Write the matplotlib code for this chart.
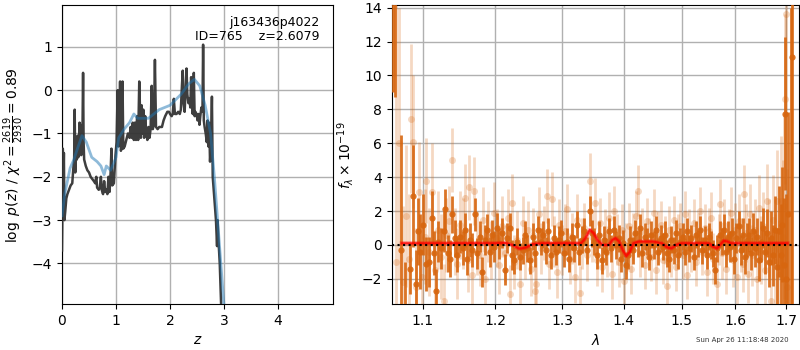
import matplotlib
matplotlib.use("Agg")
import matplotlib.pyplot as plt
import numpy as np
from matplotlib.ticker import FixedLocator, FixedFormatter, NullLocator

# ---------------- left panel: log p(z) ----------------
z_pz = [0.000, 0.010, 0.015, 0.025, 0.035, 0.045, 0.060, 0.080, 0.100, 0.130,
        0.160, 0.190, 0.210, 0.225, 0.235, 0.245, 0.260, 0.275, 0.290, 0.300,
        0.315, 0.325, 0.335, 0.345, 0.355, 0.375, 0.390, 0.400, 0.410, 0.440,
        0.470, 0.500, 0.530, 0.560, 0.590, 0.615, 0.635, 0.650, 0.680, 0.700,
        0.720, 0.735, 0.760, 0.780, 0.800, 0.820, 0.840, 0.860, 0.880, 0.900,
        0.915, 0.930, 0.960, 0.990, 1.010, 1.030, 1.045, 1.060, 1.075, 1.090,
        1.110, 1.120, 1.135, 1.160, 1.190, 1.220, 1.250, 1.270, 1.290, 1.310,
        1.330, 1.350, 1.370, 1.390, 1.410, 1.430, 1.445, 1.460, 1.475, 1.490,
        1.505, 1.520, 1.540, 1.560, 1.580, 1.600, 1.620, 1.640, 1.660, 1.680,
        1.700, 1.720, 1.740, 1.770, 1.800, 1.850, 1.880, 1.910, 1.950, 1.980,
        2.000, 2.030, 2.050, 2.070, 2.090, 2.120, 2.150, 2.180, 2.200, 2.220,
        2.235, 2.250, 2.270, 2.290, 2.305, 2.320, 2.340, 2.360, 2.375, 2.390,
        2.405, 2.420, 2.440, 2.455, 2.470, 2.490, 2.510, 2.530, 2.545, 2.560,
        2.580, 2.600, 2.612, 2.625, 2.640, 2.660, 2.680, 2.695, 2.710, 2.725,
        2.740, 2.760, 2.775, 2.790, 2.820, 2.850, 2.870, 2.880, 2.900, 2.920,
        2.960, 3.000]
logp = [-3.70, -2.50, -1.35, -2.20, -1.45, -3.00, -2.80, -2.50, -2.40, -2.30,
        -2.20, -2.15, -1.80, -1.60, -0.45, -1.90, -1.50, -1.60, -1.05, -1.55,
        -1.40, -0.75, -1.30, -0.80, -1.50, -1.45, 0.40, -1.20, -1.60, -1.75,
        -1.85, -1.90, -2.00, -2.05, -2.10, -2.15, -2.00, -2.25, -2.30, -2.25,
        -2.00, -2.30, -2.40, -2.10, -2.35, -2.30, -2.40, -2.00, -2.35, -1.90,
        -1.35, -2.20, -2.15, -1.50, -1.20, 0.00, -1.30, -1.05, 0.20, -1.40,
        -1.30, 0.20, -1.35, -1.30, -1.15, -1.00, -1.10, -0.85, -1.10, -0.75,
        -1.15, -0.75, -1.15, -0.60, -1.15, 0.20, -0.50, -1.10, -0.35, -1.00,
        -0.45, -1.10, -0.60, -1.00, -1.15, -0.85, -1.10, -0.90, 0.10, -0.90,
        -0.80, 0.70, -0.85, -0.90, -0.85, -0.85, -0.70, -0.60, -0.50, -0.50,
        -0.55, -0.60, -0.55, -0.20, -0.55, -0.55, -0.50, -0.55, -0.45, 0.10,
        0.45, -0.30, -0.50, 0.10, 0.50, -0.10, -0.30, -0.20, -0.40, 0.30,
        -0.25, -0.55, 0.40, -0.60, -0.50, -0.55, -0.70, -0.55, -0.80, -0.60,
        -0.40, -0.50, 1.05, -0.70, -0.85, -1.00, -1.20, -0.70, -1.30, -0.75,
        -1.65, -1.20, -0.15, -2.00, -2.50, -3.00, -3.60, -3.00, -3.55, -4.00,
        -5.50, -7.00]

z_prior = [0.00, 0.05, 0.15, 0.22, 0.30, 0.37, 0.45, 0.55, 0.65, 0.72,
           0.78, 0.82, 0.90, 1.00, 1.05, 1.15, 1.25, 1.33, 1.40, 1.60,
           1.80, 2.00, 2.20, 2.35, 2.45, 2.55, 2.65, 2.75, 2.82, 2.88,
           2.94, 3.00]
logp_smooth = [-2.90, -2.40, -1.80, -1.60, -1.30, -1.05, -1.20, -1.55, -1.65, -1.75,
               -1.95, -1.75, -1.85, -1.55, -1.10, -0.90, -0.75, -0.55, -0.65, -0.65,
               -0.45, -0.35, -0.10, 0.15, 0.25, 0.10, -0.35, -1.00, -2.00, -3.00,
               -4.00, -5.00]

z_ticks = [0, 1, 2, 3, 4]
pz_yticks = [-4, -3, -2, -1, 0, 1]

# ---------------- right panel: spectrum ----------------
wave_unbinned = [
    1.066, 1.070, 1.074, 1.078, 1.082, 1.085, 1.087, 1.091, 1.095, 1.099,
    1.103, 1.105, 1.109, 1.113, 1.117, 1.121, 1.125, 1.128, 1.132, 1.135,
    1.139, 1.143, 1.147, 1.151, 1.155, 1.158, 1.161, 1.163, 1.167, 1.170,
    1.174, 1.178, 1.182, 1.186, 1.190, 1.194, 1.198, 1.202, 1.206, 1.210,
    1.214, 1.218, 1.2215, 1.224, 1.228, 1.232, 1.236, 1.240, 1.244, 1.248,
    1.252, 1.256, 1.258, 1.260, 1.264, 1.268, 1.272, 1.2765, 1.280, 1.284,
    1.288, 1.292, 1.296, 1.300, 1.304, 1.308, 1.312, 1.316, 1.320, 1.3235,
    1.3275, 1.331, 1.335, 1.339, 1.3435, 1.347, 1.352, 1.356, 1.360, 1.364,
    1.368, 1.372, 1.376, 1.380, 1.384, 1.388, 1.392, 1.396, 1.400, 1.404,
    1.408, 1.412, 1.416, 1.420, 1.4235, 1.427, 1.431, 1.435, 1.439, 1.443,
    1.447, 1.451, 1.455, 1.459, 1.463, 1.467, 1.471, 1.474, 1.478, 1.482,
    1.486, 1.490, 1.494, 1.498, 1.502, 1.506, 1.510, 1.514, 1.518, 1.522,
    1.526, 1.530, 1.534, 1.538, 1.542, 1.546, 1.550, 1.554, 1.558, 1.565,
    1.568, 1.571, 1.575, 1.579, 1.583, 1.587, 1.591, 1.595, 1.599, 1.603,
    1.607, 1.611, 1.614, 1.617, 1.621, 1.625, 1.629, 1.633, 1.637, 1.641,
    1.645, 1.649, 1.653, 1.657, 1.661, 1.665, 1.670, 1.674, 1.678, 1.682,
    1.686, 1.690, 1.693, 1.696, 1.698, 1.700, 1.702]
flux_unbinned = [
    -1.0, 6.0, -2.2, 1.7, -0.8, 7.45, 6.1, -2.5, 3.1, -1.9,
    0.5, 3.8, -0.4, 3.1, -1.5, 0.9, -0.7, -3.3, 0.6, 1.4,
    5.0, 0.2, -1.1, 1.2, 0.7, 2.8, -0.9, 3.4, -1.8, 3.2,
    0.1, -0.6, 1.5, -2.0, 0.8, -0.3, 1.9, 0.4, -1.2, 1.1,
    -0.5, 1.6, -2.9, 2.5, -1.0, 0.3, -2.3, 1.3, -0.4, 0.9,
    -1.4, 0.6, -2.7, -2.3, 1.8, -0.2, 0.7, 2.9, -1.1, 2.7,
    0.2, -1.6, 1.2, -0.3, 0.8, 2.1, -0.8, 0.4, -1.9, 1.5,
    -2.86, 0.1, 1.0, -0.6, 3.8, 0.5, 2.45, -0.9, 1.3, -1.3,
    0.6, -0.4, 1.6, -1.7, 2.0, 0.3, -1.0, 0.9, -2.1, -0.2,
    1.1, -1.4, 0.5, 1.7, 3.2, -0.5, 0.8, -1.2, 1.4, 0.2,
    -0.7, 1.9, -1.5, 0.6, 1.2, -0.9, 0.3, -2.4, 0.9, -0.5,
    1.5, -1.3, 0.4, 1.1, -0.6, 1.8, -1.8, 0.7, -0.2, 1.3,
    -1.0, 0.5, 2.0, -0.4, 1.0, -1.6, 0.8, 1.6, -0.8, -2.3,
    0.3, 2.4, -0.5, 1.2, -1.4, 0.6, 1.9, -0.9, 0.9, -1.9,
    1.4, 0.0, -1.1, 3.0, 0.7, -1.7, 1.8, -0.6, 0.9, -2.0,
    2.2, -0.3, 1.1, -1.5, 2.6, 0.4, -3.3, 1.5, -1.0, 2.6,
    -1.8, 2.6, 0.5, 2.3, 8.6, 13.65, -2.5]
err_unbinned = [
    16.0, 8.0, 4.5, 4.2, 3.8, 4.4, 3.9, 3.5, 3.0, 3.1,
    2.8, 2.5, 2.6, 2.9, 2.4, 2.3, 2.5, 2.2, 2.2, 2.1,
    1.9, 2.0, 2.1, 2.0, 2.1, 2.0, 1.9, 1.9, 2.0, 2.0,
    1.9, 1.8, 1.9, 1.8, 1.8, 1.7, 1.8, 1.7, 1.7, 1.8,
    1.7, 1.7, 1.7, 1.7, 1.6, 1.7, 1.6, 1.6, 1.6, 1.7,
    1.6, 1.6, 1.6, 1.6, 1.6, 1.5, 1.6, 1.6, 1.5, 1.6,
    1.5, 1.5, 1.5, 1.5, 1.6, 1.5, 1.5, 1.5, 1.5, 1.5,
    1.6, 1.5, 1.5, 1.5, 1.6, 1.5, 1.5, 1.5, 1.5, 1.5,
    1.5, 1.5, 1.5, 1.5, 1.5, 1.5, 1.5, 1.5, 1.5, 1.5,
    1.4, 1.5, 1.4, 1.5, 1.5, 1.4, 1.4, 1.4, 1.4, 1.4,
    1.4, 1.4, 1.4, 1.4, 1.4, 1.4, 1.4, 1.4, 1.4, 1.4,
    1.4, 1.4, 1.4, 1.4, 1.4, 1.4, 1.4, 1.4, 1.4, 1.4,
    1.4, 1.4, 1.4, 1.4, 1.4, 1.4, 1.4, 1.5, 1.5, 1.5,
    1.5, 1.5, 1.5, 1.5, 1.5, 1.5, 1.5, 1.6, 1.6, 1.6,
    1.6, 1.6, 1.7, 1.7, 1.7, 1.7, 1.8, 1.8, 1.8, 1.9,
    1.9, 2.0, 2.0, 2.1, 2.2, 2.3, 2.5, 2.6, 2.8, 3.0,
    3.3, 3.8, 4.5, 5.5, 5.0, 6.0, 7.0]

wave_binned = [
    1.0615, 1.064, 1.0723, 1.077, 1.083, 1.088, 1.091, 1.094, 1.097, 1.100,
    1.104, 1.108, 1.112, 1.115, 1.118, 1.121, 1.125, 1.128, 1.130, 1.134,
    1.137, 1.1395, 1.143, 1.147, 1.150, 1.154, 1.157, 1.160, 1.164, 1.167,
    1.171, 1.174, 1.178, 1.181, 1.185, 1.188, 1.192, 1.195, 1.199, 1.203,
    1.206, 1.210, 1.214, 1.217, 1.221, 1.225, 1.228, 1.232, 1.236, 1.240,
    1.243, 1.247, 1.251, 1.255, 1.259, 1.263, 1.267, 1.271, 1.275, 1.279,
    1.283, 1.287, 1.291, 1.295, 1.299, 1.303, 1.307, 1.311, 1.315, 1.319,
    1.323, 1.327, 1.331, 1.335, 1.339, 1.3435, 1.347, 1.351, 1.355, 1.359,
    1.363, 1.367, 1.371, 1.375, 1.379, 1.383, 1.387, 1.391, 1.395, 1.399,
    1.403, 1.407, 1.411, 1.415, 1.419, 1.423, 1.427, 1.431, 1.435, 1.439,
    1.443, 1.447, 1.451, 1.455, 1.459, 1.463, 1.467, 1.471, 1.475, 1.478,
    1.482, 1.486, 1.490, 1.494, 1.498, 1.502, 1.506, 1.510, 1.514, 1.518,
    1.522, 1.526, 1.530, 1.534, 1.538, 1.542, 1.546, 1.550, 1.554, 1.558,
    1.562, 1.566, 1.570, 1.574, 1.578, 1.582, 1.586, 1.590, 1.594, 1.598,
    1.602, 1.606, 1.610, 1.614, 1.618, 1.622, 1.626, 1.630, 1.634, 1.638,
    1.642, 1.646, 1.650, 1.654, 1.658, 1.662, 1.666, 1.670, 1.674, 1.678,
    1.682, 1.686, 1.689, 1.692, 1.695, 1.697, 1.700, 1.703, 1.710, 1.713]
flux_binned = [
    20.0, 18.0, -0.3, -4.5, -1.4, 2.9, -2.3, 0.8, -0.4, 1.2,
    -1.1, -1.0, 1.6, -0.5, -2.7, 0.2, -0.2, 0.8, 2.1, -0.5,
    -0.8, 1.8, 0.4, -0.6, 0.5, -0.2, 0.9, -0.8, 0.3, -0.3,
    1.8, -0.5, 0.5, -1.6, 0.3, 0.9, -0.4, 0.6, -0.1, 1.0,
    0.1, 0.7, -1.45, 0.4, 1.0, -0.6, -0.9, 0.2, -0.7, -0.3,
    0.6, -0.2, -0.9, 0.5, -0.5, 0.9, 0.2, 0.6, -0.3, 0.8,
    -0.6, 0.4, -0.4, 0.3, 0.7, -0.5, 0.2, -0.8, 0.5, -0.2,
    1.2, -0.4, 0.3, 0.8, -0.3, 2.0, 0.7, 0.2, -0.6, 0.6,
    -0.9, 0.3, -0.4, 0.8, -0.2, 0.9, 0.0, 0.4, -0.8, 0.1,
    -1.2, -0.6, 0.3, -0.3, 0.7, 0.1, 1.0, -0.5, 0.5, 0.2,
    -0.7, 0.6, 0.0, 0.9, -0.4, 0.4, -0.1, 0.6, -0.5, -0.8,
    0.3, -0.3, 0.7, -0.6, 0.2, 0.5, -0.4, 0.8, -0.2, 0.4,
    -0.7, 0.6, 0.1, 0.9, -0.3, 0.3, -0.6, 0.5, 0.0, -0.5,
    -1.5, -0.2, 0.6, 0.2, 0.9, -0.4, 0.5, -0.1, 0.7, -0.8,
    0.4, 1.1, -0.3, 0.6, -0.7, 0.3, 0.6, -0.5, 0.8, -0.2,
    0.5, -0.9, 0.2, 1.0, -0.4, 0.7, -1.0, 0.4, -0.6, 0.9,
    -1.3, 0.8, -0.6, 1.2, -1.2, 7.75, -2.0, 1.85, -4.0, 11.1]
err_binned = [
    11.0, 9.3, 6.8, 3.5, 1.5, 3.0, 2.0, 2.0, 2.2, 1.8,
    1.6, 1.5, 1.6, 1.3, 1.3, 1.2, 1.2, 1.2, 1.2, 1.1,
    1.1, 1.1, 1.1, 1.0, 1.0, 1.0, 1.0, 1.0, 1.0, 1.0,
    1.0, 0.9, 0.9, 0.9, 0.9, 0.9, 0.9, 0.9, 0.9, 0.9,
    0.9, 0.9, 0.9, 0.9, 0.9, 0.9, 0.8, 0.8, 0.8, 0.8,
    0.8, 0.8, 0.8, 0.8, 0.8, 0.8, 0.8, 0.8, 0.8, 0.8,
    0.8, 0.8, 0.8, 0.8, 0.8, 0.8, 0.8, 0.8, 0.8, 0.8,
    0.8, 0.8, 0.8, 0.8, 0.8, 0.9, 0.8, 0.8, 0.8, 0.8,
    0.8, 0.8, 0.8, 0.8, 0.8, 0.8, 0.8, 0.8, 0.8, 0.8,
    0.8, 0.8, 0.8, 0.8, 0.8, 0.8, 0.8, 0.8, 0.8, 0.8,
    0.8, 0.8, 0.8, 0.8, 0.8, 0.8, 0.8, 0.8, 0.8, 0.8,
    0.8, 0.8, 0.8, 0.8, 0.8, 0.8, 0.8, 0.8, 0.8, 0.8,
    0.8, 0.8, 0.8, 0.8, 0.8, 0.8, 0.8, 0.8, 0.8, 0.8,
    0.8, 0.8, 0.8, 0.8, 0.9, 0.9, 0.9, 0.9, 0.9, 0.9,
    0.9, 0.9, 0.9, 1.0, 1.0, 1.0, 1.0, 1.0, 1.1, 1.1,
    1.1, 1.2, 1.2, 1.2, 1.3, 1.4, 1.5, 1.6, 1.8, 2.0,
    2.3, 2.7, 3.0, 3.4, 4.0, 4.5, 5.0, 6.0, 18.0, 16.0]

wave_model = [1.073, 1.200, 1.215, 1.225, 1.235, 1.245, 1.255, 1.270, 1.330, 1.337,
              1.344, 1.350, 1.357, 1.365, 1.375, 1.381, 1.386, 1.392, 1.398, 1.404,
              1.410, 1.416, 1.425, 1.450, 1.465, 1.475, 1.482, 1.490, 1.500, 1.550,
              1.558, 1.565, 1.572, 1.578, 1.585, 1.592, 1.703]
flux_model = [0.10, 0.10, 0.12, 0.00, -0.22, -0.15, 0.05, 0.10, 0.10, 0.40,
              0.90, 0.70, 0.25, 0.00, 0.00, 0.30, 0.40, 0.20, -0.30, -0.65,
              -0.40, 0.10, 0.20, 0.20, 0.10, -0.15, -0.20, 0.00, 0.10, 0.10,
              -0.10, -0.20, 0.05, 0.25, 0.20, 0.10, 0.10]

wave_ticks = [1.1, 1.2, 1.3, 1.4, 1.5, 1.6, 1.7]
wave_ticklabels = ["1.1", "1.2", "1.3", "1.4", "1.5", "1.6", "1.7"]
flux_yticks = [-2, 0, 2, 4, 6, 8, 10, 12, 14]

title_lines = "j163436p4022\nID=765    z=2.6079"
timestamp = "Sun Apr 26 11:18:48 2020"

# ---------------- figure ----------------
fig = plt.figure(figsize=(8, 3.5), dpi=100)
ax1 = fig.add_axes([0.0775, 0.131, 0.339, 0.854])
ax2 = fig.add_axes([0.490, 0.131, 0.509, 0.854])

ax1.plot(z_pz, logp, color="0.2", lw=1.8, alpha=0.95, zorder=3)
ax1.plot(z_prior, logp_smooth, color="tab:blue", lw=2, alpha=0.5, zorder=4)
ax1.set_xlim(0, 5.02)
ax1.set_ylim(-4.94, 1.96)
ax1.set_xticks(z_ticks)
ax1.set_yticks(pz_yticks)
ax1.grid(True, color="#b0b0b0", lw=1)
ax1.set_axisbelow(True)
ax1.set_xlabel(r"$z$")
ax1.set_ylabel(r"$\log\ p(z)$" + " / " + r"$\chi^2=\frac{2619}{2930}=0.89$")
ax1.text(0.948, 0.965, title_lines, transform=ax1.transAxes, ha="right", va="top",
         fontsize=9, linespacing=1.1)

orange = "#d7660f"
ax2.errorbar(wave_unbinned, flux_unbinned, yerr=err_unbinned, fmt="o", color=orange,
             alpha=0.25, ms=5, lw=2, capsize=0, zorder=2, markeredgewidth=0)
ax2.errorbar(wave_binned, flux_binned, yerr=err_binned, fmt="o", color=orange,
             alpha=0.9, ms=4.5, lw=2, capsize=0, zorder=3, markeredgewidth=0)
ax2.plot(wave_model, flux_model, color="red", lw=3, alpha=0.35, zorder=4)
ax2.plot(wave_model, flux_model, color="red", lw=1.5, alpha=0.8, zorder=5)
ax2.axhline(0, color="k", ls=":", lw=1.5, zorder=6)
ax2.set_xscale("log")
ax2.set_xlim(1.0605, 1.727)
ax2.set_ylim(-3.49, 14.14)
ax2.xaxis.set_major_locator(FixedLocator(wave_ticks))
ax2.xaxis.set_major_formatter(FixedFormatter(wave_ticklabels))
ax2.xaxis.set_minor_locator(NullLocator())
ax2.set_yticks(flux_yticks)
ax2.grid(True, color="#b0b0b0", lw=1)
ax2.set_axisbelow(True)
ax2.set_xlabel(r"$\lambda$")
ax2.set_ylabel(r"$f_\lambda \times 10^{-19}$")

fig.text(0.986, 0.028, timestamp, ha="right", va="center", fontsize=5, color="0.2")

fig.savefig("out.png", dpi=100)
